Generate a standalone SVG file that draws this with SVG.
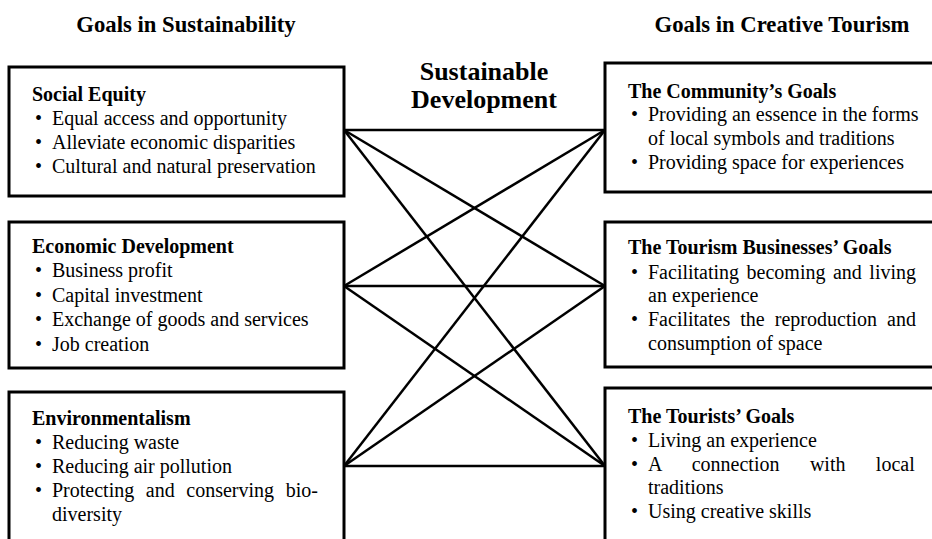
<svg xmlns="http://www.w3.org/2000/svg" width="932" height="539" viewBox="0 0 932 539">
  <style>
    text { font-family: "Liberation Serif", "Times New Roman", serif; fill: #000; }
    .head { font-size: 22.7px; font-weight: bold; text-anchor: middle; }
    .center { font-size: 26px; font-weight: bold; text-anchor: middle; }
    .title { font-size: 20px; font-weight: bold; }
    .item { font-size: 20px; }
    .box { fill: #fff; stroke: #000; stroke-width: 3; }
    .link { stroke: #000; stroke-width: 2.5; fill: none; }
  </style>

  <rect width="932" height="539" fill="#fff"/>

  <!-- column headings -->
  <text class="head" x="186" y="32">Goals in Sustainability</text>
  <text class="head" x="782" y="32">Goals in Creative Tourism</text>
  <text class="center" x="484" y="80">Sustainable</text>
  <text class="center" x="484" y="108">Development</text>

  <!-- connectors: every sustainability goal linked to every tourism goal -->
  <g id="connectors">
    <line class="link" x1="344" y1="130" x2="605" y2="130"/>
    <line class="link" x1="344" y1="130" x2="605" y2="286"/>
    <line class="link" x1="344" y1="130" x2="605" y2="466"/>
    <line class="link" x1="344" y1="286" x2="605" y2="130"/>
    <line class="link" x1="344" y1="286" x2="605" y2="286"/>
    <line class="link" x1="344" y1="286" x2="605" y2="466"/>
    <line class="link" x1="344" y1="466" x2="605" y2="130"/>
    <line class="link" x1="344" y1="466" x2="605" y2="286"/>
    <line class="link" x1="344" y1="466" x2="605" y2="466"/>
  </g>

  <!-- left column -->
  <g id="social-equity">
    <rect class="box" x="9" y="67" width="335" height="129"/>
    <text class="title" x="32" y="101">Social Equity</text>
    <text class="item" x="35" y="125">•</text><text class="item" x="52" y="125">Equal access and opportunity</text>
    <text class="item" x="35" y="149">•</text><text class="item" x="52" y="149">Alleviate economic disparities</text>
    <text class="item" x="35" y="173">•</text><text class="item" x="52" y="173">Cultural and natural preservation</text>
  </g>

  <g id="economic-development">
    <rect class="box" x="9" y="222" width="335" height="146"/>
    <text class="title" x="32" y="253">Economic Development</text>
    <text class="item" x="35" y="277">•</text><text class="item" x="52" y="277">Business profit</text>
    <text class="item" x="35" y="302">•</text><text class="item" x="52" y="302">Capital investment</text>
    <text class="item" x="35" y="326">•</text><text class="item" x="52" y="326">Exchange of goods and services</text>
    <text class="item" x="35" y="351">•</text><text class="item" x="52" y="351">Job creation</text>
  </g>

  <g id="environmentalism">
    <rect class="box" x="9" y="392" width="335" height="160"/>
    <text class="title" x="32" y="425">Environmentalism</text>
    <text class="item" x="35" y="449">•</text><text class="item" x="52" y="449">Reducing waste</text>
    <text class="item" x="35" y="473">•</text><text class="item" x="52" y="473">Reducing air pollution</text>
    <text class="item" x="35" y="497">•</text><text class="item" x="52" y="497" word-spacing="6.6">Protecting and conserving bio-</text>
    <text class="item" x="52" y="521">diversity</text>
  </g>

  <!-- right column -->
  <g id="community-goals">
    <rect class="box" x="605" y="63" width="340" height="129"/>
    <text class="title" x="628" y="98">The Community’s Goals</text>
    <text class="item" x="631" y="121">•</text><text class="item" x="648" y="121">Providing an essence in the forms</text>
    <text class="item" x="648" y="145">of local symbols and traditions</text>
    <text class="item" x="631" y="169">•</text><text class="item" x="648" y="169">Providing space for experiences</text>
  </g>

  <g id="tourism-businesses-goals">
    <rect class="box" x="605" y="222" width="340" height="145"/>
    <text class="title" x="628" y="254">The Tourism Businesses’ Goals</text>
    <text class="item" x="631" y="279">•</text><text class="item" x="648" y="279" word-spacing="2.5">Facilitating becoming and living</text>
    <text class="item" x="648" y="302">an experience</text>
    <text class="item" x="631" y="326">•</text><text class="item" x="648" y="326" word-spacing="5.1">Facilitates the reproduction and</text>
    <text class="item" x="648" y="350">consumption of space</text>
  </g>

  <g id="tourists-goals">
    <rect class="box" x="605" y="388" width="340" height="165"/>
    <text class="title" x="628" y="423">The Tourists’ Goals</text>
    <text class="item" x="631" y="447">•</text><text class="item" x="648" y="447">Living an experience</text>
    <text class="item" x="631" y="471">•</text><text class="item" x="648" y="471" word-spacing="25.4">A connection with local</text>
    <text class="item" x="648" y="494">traditions</text>
    <text class="item" x="631" y="518">•</text><text class="item" x="648" y="518">Using creative skills</text>
  </g>
</svg>
